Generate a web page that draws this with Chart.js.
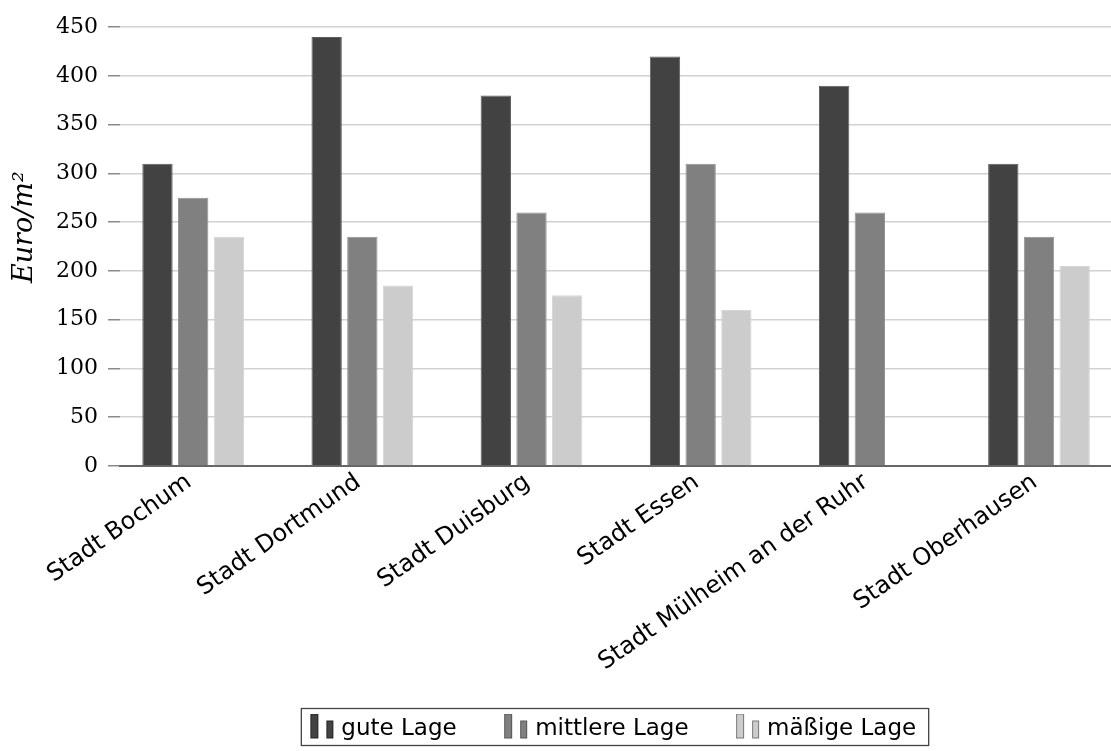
<!DOCTYPE html>
<html>
<head>
<meta charset="utf-8">
<script src="https://cdn.jsdelivr.net/npm/chart.js@4.4.1/dist/chart.umd.min.js"></script>
<style>
    html, body { margin: 0; padding: 0; overflow: hidden; background: #fff; }
    #wrap { position: relative; width: 1111px; height: 751px; overflow: hidden; }
    #myChart { position: absolute; left: 0; top: -35px; }
</style>
</head>
<body>
<div id="wrap"><canvas id="myChart" width="1207" height="786"></canvas></div>
<script>
const categories = [
    'Stadt Bochum',
    'Stadt Dortmund',
    'Stadt Duisburg',
    'Stadt Essen',
    'Stadt Mülheim an der Ruhr',
    'Stadt Oberhausen',
];
const seriesNames = ['gute Lage', 'mittlere Lage', 'mäßige Lage'];
const guteLage = [310, 440, 380, 420, 390, 310];
const mittlereLage = [275, 235, 260, 310, 260, 235];
const maessigeLage = [235, 185, 175, 160, null, 205];
const yTicks = [0, 50, 100, 150, 200, 250, 300, 350, 400, 450];

const fills = ['#424242', '#808080', '#cccccc'];
const edges = ['#5e5e5e', '#939393', '#d6d6d6'];
const iconEdges = ['#222', '#555', '#777'];

// two little bars, like the pgfplots legend glyph (drawn in the right half,
// the image is centred on the legend box)
function legendIcon(fill, edge) {
    const c = document.createElement('canvas');
    c.width = 50;
    c.height = 32;
    const ctx = c.getContext('2d');
    ctx.fillStyle = fill;
    ctx.strokeStyle = edge;
    ctx.lineWidth = 1;
    ctx.fillRect(25, 0, 8, 25);
    ctx.strokeRect(25.5, 0.5, 7, 24);
    ctx.fillRect(41, 7, 7, 18);
    ctx.strokeRect(41.5, 7.5, 6, 17);
    return c;
}
const icons = fills.map((f, i) => legendIcon(f, iconEdges[i]));

function toPoints(values) {
    return values.map((v, i) => ({x: i, y: v}));
}

const legendFrame = {
    id: 'legendFrame',
    afterDraw(chart) {
        const boxes = chart.legend.legendHitBoxes;
        if (!boxes || !boxes.length) return;
        const first = boxes[0];
        const last = boxes[boxes.length - 1];
        const left = first.left + 10.5;
        const right = last.left + last.width + 12.5;
        const ctx = chart.ctx;
        ctx.save();
        ctx.strokeStyle = '#444';
        ctx.lineWidth = 1.3;
        ctx.strokeRect(left, first.top - 9.5, right - left, 37);
        ctx.restore();
    }
};

const data = {
    datasets: [guteLage, mittlereLage, maessigeLage].map((values, i) => ({
        label: seriesNames[i],
        data: toPoints(values),
        backgroundColor: fills[i],
        borderColor: edges[i],
        borderWidth: 1,
        categoryPercentage: 0.633,
        barPercentage: 0.85,
    }))
};

const config = {
    type: 'bar',
    data,
    options: {
        responsive: false,
        animation: false,
        layout: {padding: {top: 20, left: 0, right: 0, bottom: 0}},
        scales: {
            x: {
                type: 'linear',
                min: -0.4326,
                max: 5.9932,
                offset: false,
                afterBuildTicks: (scale) => {
                    scale.ticks = categories.map((c, i) => ({value: i}));
                },
                afterFit: (scale) => {
                    scale.height = 224;
                },
                grid: {display: false, drawTicks: false, offset: false},
                border: {display: true, color: '#666', width: 2},
                ticks: {
                    autoSkip: false,
                    minRotation: 35,
                    maxRotation: 35,
                    padding: 2,
                    labelOffset: -4,
                    color: '#000',
                    font: {family: 'DejaVu Sans', size: 24},
                    callback: (v) => categories[v],
                },
            },
            y: {
                min: 0,
                max: 490,
                afterBuildTicks: (scale) => {
                    scale.ticks = yTicks.map(v => ({value: v}));
                },
                afterFit: (scale) => {
                    scale.width = 120;
                },
                grid: {color: '#d2d2d2', lineWidth: 1.5, drawTicks: true, tickLength: 12, tickColor: '#8a8a8a', tickWidth: 1.5},
                border: {display: false},
                ticks: {padding: 10, color: '#000', font: {family: 'DejaVu Serif', size: 22}},
                title: {
                    display: true,
                    text: 'Euro/m²',
                    color: '#000',
                    font: {family: 'DejaVu Serif', style: 'italic', size: 27},
                    padding: {top: 9, bottom: 0},
                },
            },
        },
        plugins: {
            tooltip: {enabled: false},
            legend: {
                position: 'bottom',
                labels: {
                    usePointStyle: true,
                    pointStyleWidth: 39,
                    padding: 28,
                    color: '#000',
                    font: {family: 'DejaVu Sans', size: 23},
                    generateLabels: (chart) => chart.data.datasets.map((ds, i) => ({
                        text: ds.label,
                        pointStyle: icons[i],
                        fillStyle: ds.backgroundColor,
                        strokeStyle: ds.borderColor,
                        lineWidth: 0,
                        hidden: false,
                        datasetIndex: i,
                    })),
                },
            },
        },
    },
    plugins: [legendFrame],
};

const myChart = new Chart(document.getElementById('myChart'), config);
</script>
</body>
</html>
